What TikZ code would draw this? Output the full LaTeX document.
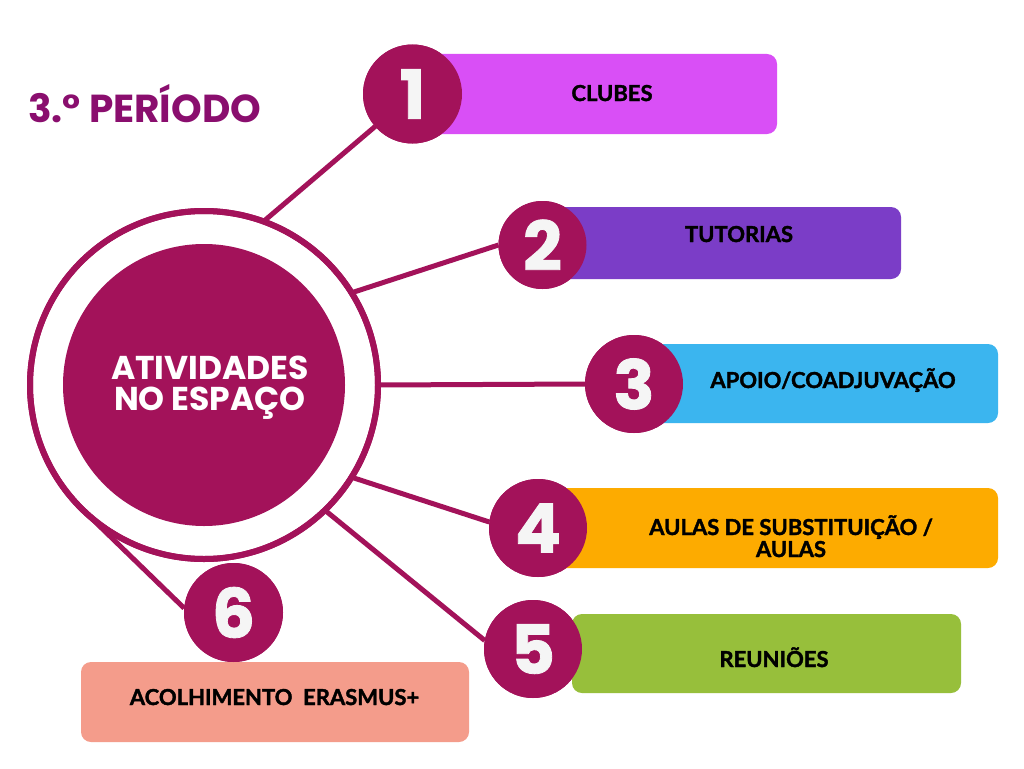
\documentclass[tikz,border=0pt]{standalone}
\usepackage{fontspec}
\setmainfont{Lato}[BoldFeatures={FakeBold=1.6}]
\newfontfamily\popfont{Poppins}
\newfontfamily\popheavy{Poppins}[BoldFeatures={FakeBold=1.2}]
\definecolor{wine}{HTML}{A3125A}
\definecolor{titlec}{HTML}{8A0E6E}
\definecolor{cA}{HTML}{D94FF6}
\definecolor{cB}{HTML}{7B3DC7}
\definecolor{cC}{HTML}{3BB5EF}
\definecolor{cD}{HTML}{FDAB00}
\definecolor{cE}{HTML}{97BF3B}
\definecolor{cF}{HTML}{F49C8B}
\definecolor{numc}{HTML}{F5F5F5}
\tikzset{
  link/.style={draw=wine, line width=5pt},
  numdisc/.style={circle, fill=wine, inner sep=0pt, outer sep=0pt, text=numc,
    font=\popheavy\bfseries\fontsize{68}{68}\selectfont},
  bar/.style={rectangle, rounded corners=10pt, inner sep=0pt, outer sep=0pt},
  lab/.style={anchor=base, inner sep=0pt, text=black, font=\bfseries\fontsize{22}{22}\selectfont, align=center}
}
\begin{document}
\begin{tikzpicture}[x=1pt,y=-1pt]
\useasboundingbox[fill=white] (0,0) rectangle (1024,768);

% ring and discs (positions)
\node[circle, draw=wine, line width=6pt, fill=white, minimum size=348pt, inner sep=0pt, outer sep=0pt] (ring) at (204,385) {};
\node[numdisc, minimum size=99pt] (c1) at (412.5,94) {};
\node[numdisc, minimum size=88pt] (c2) at (542.5,245) {};
\node[numdisc, minimum size=98pt] (c3) at (634,384) {};
\node[numdisc, minimum size=98pt] (c4) at (538,528) {};
\node[numdisc, minimum size=98pt] (c5) at (533,649) {};
\node[numdisc, minimum size=99pt] (c6) at (233.5,612.5) {};

% connectors
\draw[link] (ring.70) -- (c1.221);
\draw[link] (ring.32) -- (c2.180);
\draw[link] (ring.east) -- (c3.180);
\draw[link] (ring.-32) -- (c4.173);
\draw[link] (ring.-46) -- (c5.170);
\draw[link] (ring.225) -- (c6.175);

% ring on top of connector starts
\node[circle, draw=wine, line width=6pt, minimum size=348pt, inner sep=0pt, outer sep=0pt] at (ring.center) {};
\node[circle, fill=wine, minimum size=282pt, inner sep=0pt] (core) at (ring.center) {};
\node[inner sep=0pt, text=white, align=center,
  font=\popfont\bfseries\fontsize{33}{31}\selectfont] (ctext) at (210,388) {ATIVIDADES\\NO ESPAÇO};

% bars
\node[bar, fill=cA, minimum width=365pt, minimum height=80pt] (b1) at (594.5,94) {};
\node[bar, fill=cB, minimum width=359pt, minimum height=72pt] (b2) at (721.5,243) {};
\node[bar, fill=cC, minimum width=364pt, minimum height=79pt] (b3) at (816,383.5) {};
\node[bar, fill=cD, minimum width=460pt, minimum height=80pt] (b4) at (768,528) {};
\node[bar, fill=cE, minimum width=389pt, minimum height=79pt] (b5) at (766.5,653.5) {};
\node[bar, fill=cF, minimum width=388pt, minimum height=80pt] (b6) at (275,702) {};

% number discs
\node[numdisc, minimum size=99pt] at (c1.center) {1};
\node[numdisc, minimum size=88pt] at (c2.center) {2};
\node[numdisc, minimum size=98pt] at (c3.center) {3};
\node[numdisc, minimum size=98pt] at (c4.center) {4};
\node[numdisc, minimum size=98pt] at (c5.center) {5};
\node[numdisc, minimum size=99pt] at (c6.center) {6};

% labels
\node[lab] (t1) at (612,101) {CLUBES};
\node[lab] (t2) at (739,242) {TUTORIAS};
\node[lab] (t3) at (833,388) {APOIO/COADJUVAÇÃO};
\node[lab] (t4) at (791,557) {AULAS DE SUBSTITUIÇÃO /\\AULAS};
\node[lab] (t5) at (774,667) {REUNIÕES};
\node[lab] (t6) at (274.5,705) {ACOLHIMENTO\ \ ERASMUS+};

% title
\node[anchor=base west, inner sep=0pt, text=titlec, font=\popfont\bfseries\fontsize{39}{42}\selectfont] (title) at (28,122) {3.° PERÍODO};
\end{tikzpicture}
\end{document}
